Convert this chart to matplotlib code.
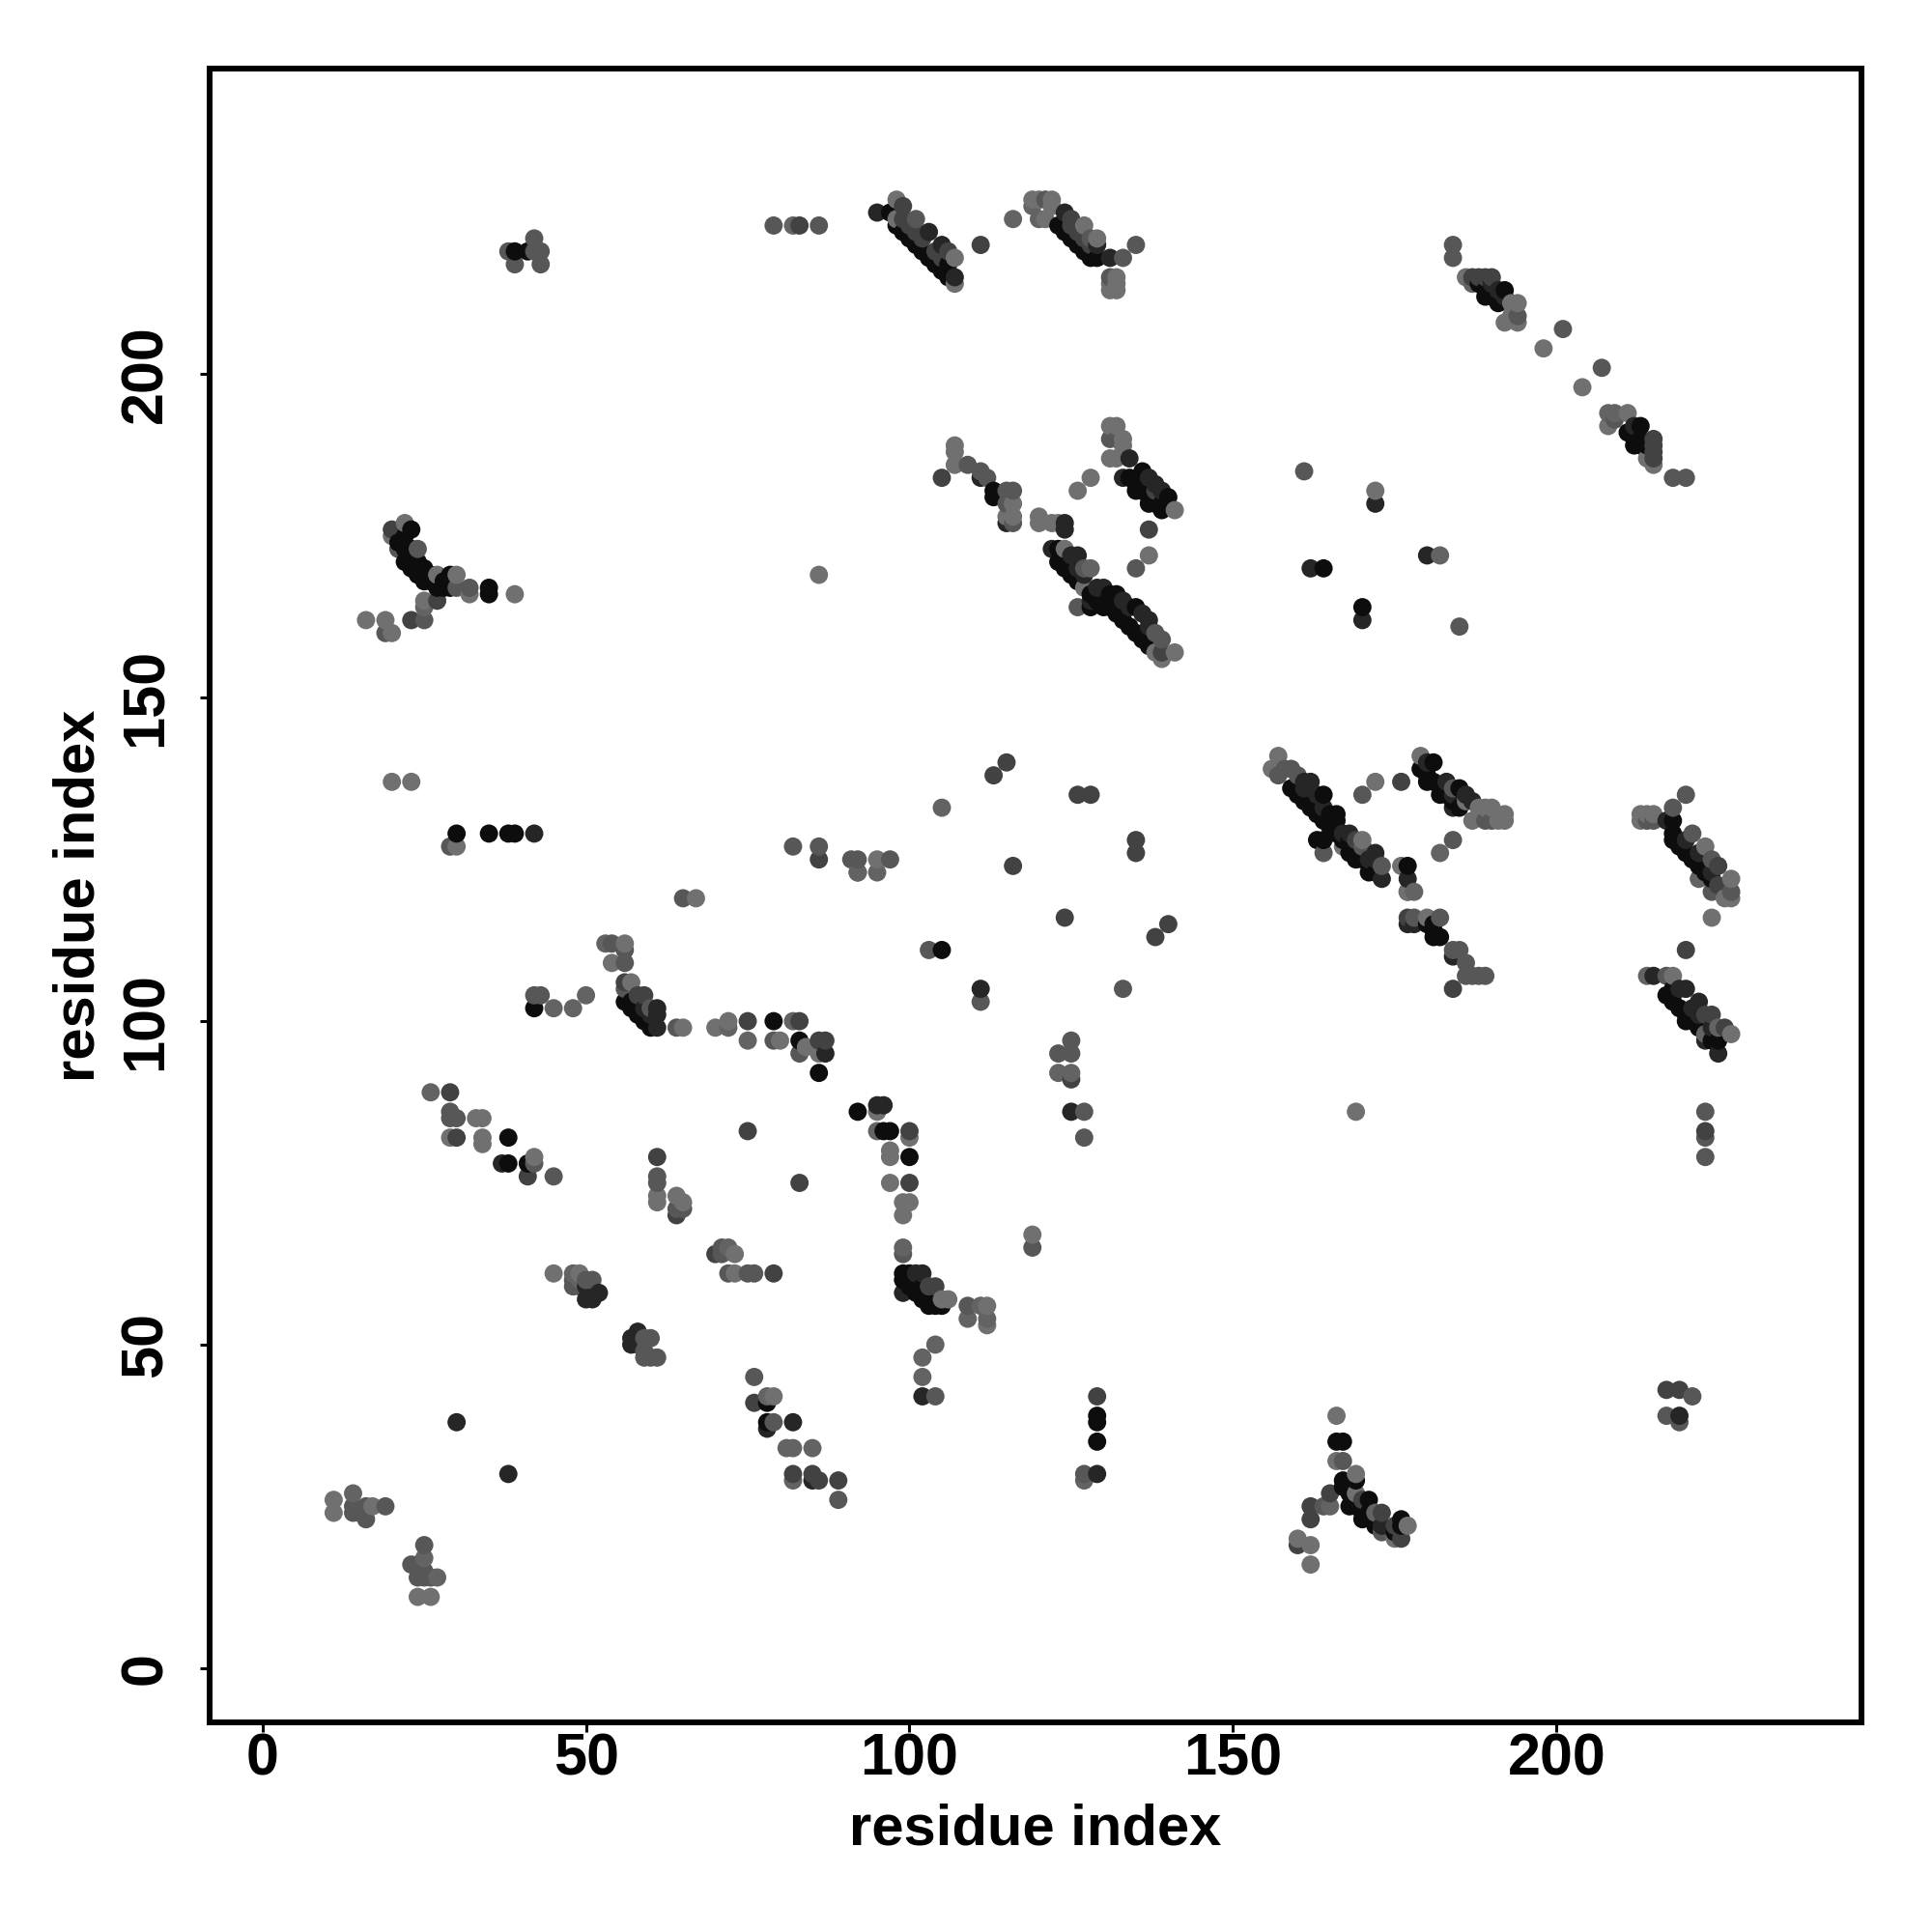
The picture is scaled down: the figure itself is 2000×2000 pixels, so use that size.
import matplotlib
matplotlib.use("Agg")
import matplotlib.pyplot as plt

plt.rcParams['font.family'] = ['Liberation Sans', 'DejaVu Sans']

black = [(39,219),(41,219),(23,176),(22,175),(23,173),(22,171),(23,170),(25,168),(28,168),(29,169),(29,167),(35,167),(35,166),
 (30,129),(35,129),(38,129),(39,129),(38,82),(38,78),(41,78),(42,102),(56,103),(58,101),(60,99),(59,100),(79,100),(83,97),(86,92),
 (92,86),(97,83),(96,83),(100,79),(78,41),(78,38),(99,61),(99,60),(100,61),(100,60),(101,58),(102,58),(102,57),(103,57),(103,56),(104,56),(105,56),
 (129,39),(129,38),(129,35),(166,35),(167,35),(167,29),(169,29),(167,28),(168,25),(171,26),(170,23),(172,22),(176,23),(176,22),
 (97,225),(100,221),(102,219),(104,217),(106,217),(113,182),(113,181),(123,173),(123,171),(125,169),(128,164),(131,166),(132,166),(132,163),
 (133,164),(134,161),(135,164),(136,159),(136,185),(135,182),(137,180),(140,181),(139,179),(129,218),(128,218),(126,220),(124,222),
 (159,136),(161,134),(163,132),(164,135),(165,132),(166,132),(166,131),(164,128),(163,128),(168,128),(168,126),(169,125),(171,123),
 (179,139),(181,140),(180,137),(182,135),(185,136),(181,114),(182,113),(181,113),(105,111),(177,124),
 (218,131),(218,129),(218,128),(220,126),(222,124),(217,104),(219,102),(220,100),(225,97),
 (189,212),(192,213),(191,211),(213,192),(211,191),(212,189),(164,170),(170,164),
 (98,223),(99,222),(101,220),(103,218),(105,216),(106,215),(123,223),(125,221),(127,219),
 (188,214),(189,213),(190,212),(212,190),(213,189),(212,191),(213,190),(214,189),
 (21,174),(22,173),(23,172),(24,171),(25,170),(26,169),(24,170),(24,169),(26,168),(27,167),(28,167),
 (124,170),(126,168),(128,166),(129,165),(130,164),(131,164),(133,162),(135,160),(137,158),
 (134,184),(136,182),(138,180),(139,180),(135,183),(137,181),
 (160,135),(162,133),(164,131),(165,130),(166,129),(167,128),(169,126),(170,125),(172,123),
 (180,138),(181,137),(183,135),(184,134),(185,133),
 (219,127),(221,125),(223,123),(224,122),
 (218,103),(220,101),(221,100),(222,99),(223,98),(224,97),(218,105),
 (57,102),(57,103),(59,101),(60,100),(100,59),(101,59),(102,59),(168,27),(169,25),(170,24),(171,24),(172,23),(175,21),(180,115),(181,115)]
dark = [(30,38),(38,30),(37,78),(82,38),(78,37),(50,57),(51,57),(52,58),(50,59),(58,52),(57,51),(57,50),(58,50),(61,102),(61,101),(61,99),
 (95,87),(96,87),(87,95),(85,29),(102,42),(101,61),(102,61),(99,58),(129,30),(125,86),(95,225),(103,222),(105,220),(107,215),
 (131,218),(111,184),(115,177),(124,176),(122,173),(125,172),(126,172),(124,177),(129,167),(128,165),(137,162),(134,187),(133,184),
 (124,225),(129,220),(161,137),(162,137),(167,129),(172,126),(173,122),(171,125),(177,122),(180,140),(184,133),(187,134),(178,115),(184,110),
 (177,115),(215,107),(220,105),(222,103),(223,97),(225,95),(217,131),(173,22),(212,192),(172,180),(162,170),(180,172),(170,162),(219,39),
 (42,129),(111,105),(190,214),(191,213),(192,212),
 (126,170),(127,169),(130,167),(133,165),(134,164),(136,163),(137,161),(137,184),(138,183),(139,182),
 (161,136),(163,135),(164,133),(168,129),(170,127),(172,125),(183,137),(184,135),(186,135),
 (220,128),(222,126),(224,123),(219,105),(221,102),(222,101),(224,99),(59,102),(60,101)]
darkmid = [(29,89),(30,82),(41,76),(61,79),(64,70),(75,83),(83,75),(75,100),(83,100),(86,97),(87,97),(100,83),(100,75),(70,64),(79,61),(76,41),
 (82,30),(85,30),(86,29),(89,29),(103,59),(104,59),(129,42),(177,116),(20,176),(23,162),(27,165),(83,223),(99,226),(111,220),(105,184),
 (137,176),(138,182),(139,157),(125,224),(176,137),(169,128),(165,27),(162,25),(162,23),(160,19),(173,24),(170,26),(175,22),(176,20),(184,105),
 (220,111),(225,124),(225,121),(223,101),(224,101),(226,99),(223,83),(189,215),(190,215),(188,215),(187,215),(215,190),(215,189),(215,188),(215,187),
 (217,43),(219,43),(113,138),(115,140),(126,135),(128,135),(135,128),(135,126),(116,124),(124,116),(140,115),(138,113),(86,125),(125,91),(56,106),(58,104),(59,104),
 (99,224),(100,223),(101,222),(102,221),(104,219),(105,218),(106,219),(125,223),(126,222),(127,221),(128,220)]
mid = [(29,86),(30,85),(29,85),(14,25),(14,24),(15,24),(16,25),(16,23),(19,25),(25,19),(23,16),(24,16),(24,14),(25,14),(26,14),(25,15),(45,76),(42,78),
 (61,76),(61,75),(64,71),(65,71),(48,60),(48,59),(50,60),(51,60),(49,59),(59,51),(60,51),(59,49),(59,48),(60,48),(61,48),(71,65),(71,64),(72,61),(75,61),(76,61),
 (76,45),(79,38),(79,97),(83,95),(43,104),(42,104),(56,105),(60,102),(64,99),(56,111),(56,109),(54,112),(103,111),(104,42),(109,56),(89,26),(127,86),(127,82),(127,30),
 (123,95),(125,95),(125,97),(119,65),(99,64),(189,131),(190,131),(184,128),(182,116),(177,120),(178,116),(186,109),(186,107),(187,107),(188,107),(189,107),
 (220,135),(218,133),(214,131),(215,131),(221,129),(224,125),(224,120),(227,120),(217,107),(223,86),(223,82),(223,79),(194,209),(201,207),(207,201),(209,193),
 (184,220),(184,218),(218,184),(220,184),(161,185),(185,161),(38,219),(39,217),(42,221),(42,219),(43,219),(43,217),(79,223),(86,223),(21,173),(24,173),(30,167),(32,167),
 (19,160),(25,162),(29,127),(82,127),(86,127),(91,125),(92,125),(92,123),(97,125),(65,119),(111,103),(133,105),(221,42),(219,38),(217,39),(101,224),
 (111,185),(112,184),(109,186),(115,182),(116,182),(115,180),(116,177),(127,170),(126,164),(138,160),(139,159),(131,190),(132,190),(135,170),(135,220),(133,218),(131,215),
 (128,221),(121,227),(184,136),(170,127),(173,124),(160,138),(159,139),(158,139),(157,138),(170,135),(164,126),(184,111),(185,111),(173,21),(167,32),(164,25)]
lightmid = [(26,89),(14,27),(25,17),(27,14),(50,104),(48,102),(45,102),(53,112),(82,100),(75,97),(72,99),(48,61),(49,60),(72,65),(78,42),(81,34),(82,34),(85,34),
 (82,29),(104,50),(102,48),(102,45),(99,65),(109,54),(111,56),(112,54),(123,92),(125,92),(127,29),(95,83),(82,223),(25,164),(92,123),(95,123),(105,133),(116,224),(120,224),
 (128,170),(165,25),(172,24),(208,194),(209,194),(182,126),(178,120),(182,172),(214,107),(225,99),(223,98),(222,122),(187,214),(119,226)]
light = [(11,26),(11,24),(17,25),(24,11),(26,11),(33,85),(34,85),(29,82),(34,82),(34,81),(42,79),(61,73),(61,72),(64,73),(65,72),(45,61),(49,61),(73,64),(73,61),
 (79,42),(99,72),(100,72),(99,70),(97,80),(100,82),(97,75),(95,86),(97,79),(54,109),(56,112),(57,106),(65,99),(70,99),(72,100),(80,97),(84,96),(86,95),(105,57),(106,57),
 (112,56),(112,53),(119,67),(166,39),(166,32),(169,30),(169,27),(160,20),(162,19),(162,16),(175,20),(177,22),(98,227),(98,224),(107,218),(107,214),(119,227),(120,227),(122,227),
 (121,224),(122,226),(127,223),(129,221),(131,214),(132,215),(132,214),(131,213),(132,213),(107,189),(107,188),(107,186),(116,180),(120,177),(122,177),(123,177),(128,184),(126,182),
 (131,192),(132,192),(131,187),(133,190),(133,189),(132,187),(141,179),(137,172),(124,173),(127,167),(138,157),(139,156),(141,157),(157,141),(156,139),(172,137),(170,128),(167,127),
 (179,141),(186,134),(187,131),(188,133),(189,133),(190,133),(191,131),(192,132),(192,131),(180,116),(213,132),(213,131),(214,132),(215,132),(223,127),(227,122),(227,119),(226,119),
 (224,116),(218,107),(227,98),(169,86),(186,215),(193,211),(194,211),(192,208),(194,208),(193,209),(198,204),(204,198),(208,192),(211,194),(214,187),(215,186),(172,182),(22,177),(20,175),
 (27,169),(30,169),(32,166),(39,166),(25,165),(16,162),(19,162),(20,160),(86,169),(20,137),(23,137),(30,127),(95,125),(67,119),(176,124),(120,178),(177,120),(116,178),(115,178)]

shade_groups = [(black, 0.05), (dark, 0.15), (darkmid, 0.26), (mid, 0.34), (lightmid, 0.39), (light, 0.44)]
tick_values = [0, 50, 100, 150, 200]
axis_label = "residue index"

points = []
for group, g in shade_groups:
    for x, y in group:
        points.append((x, y, g))
points.sort(key=lambda p: (p[0], p[1]))

fig = plt.figure(figsize=(20, 20), dpi=100)
ax = fig.add_axes([0.1084, 0.1085, 0.8553, 0.8558])
ax.scatter([p[0] for p in points], [p[1] for p in points],
           c=[str(p[2]) for p in points], s=185, linewidths=0, zorder=3)
ax.set_xlim(-8.2, 247.2)
ax.set_ylim(-8.4, 247.2)
ax.set_xticks(tick_values)
ax.set_yticks(tick_values)
ax.tick_params(axis='both', length=7.2, width=2.2, labelsize=44)
ax.tick_params(axis='x', pad=0)
ax.tick_params(axis='y', pad=19)
for lab in ax.get_xticklabels() + ax.get_yticklabels():
    lab.set_fontweight('bold')
for lab in ax.get_yticklabels():
    lab.set_rotation(90)
    lab.set_va('center')
for s in ax.spines.values():
    s.set_linewidth(4.3)
ax.set_xlabel(axis_label, fontsize=43, fontweight='bold', labelpad=12)
ax.set_ylabel(axis_label, fontsize=43, fontweight='bold', labelpad=10)
fig.savefig("out.png", dpi=100, facecolor='white')
